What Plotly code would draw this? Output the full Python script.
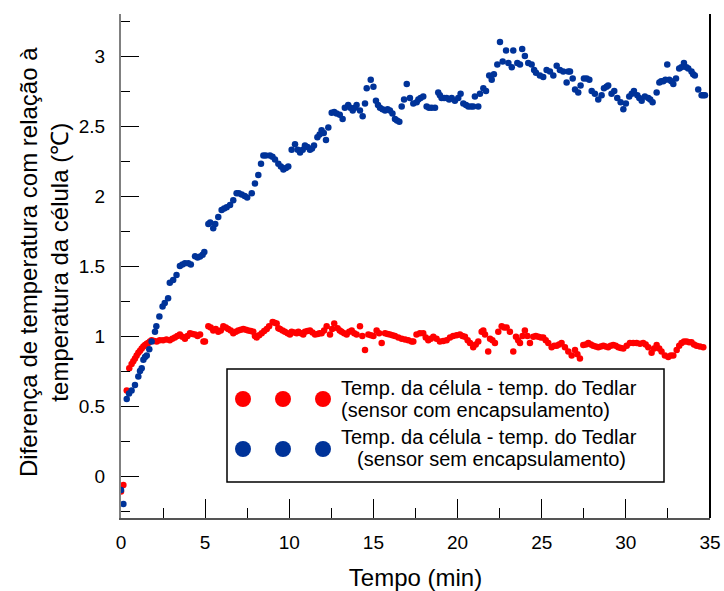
import plotly.graph_objects as go

# ---- data ----
blue_t = [0.0, 0.14, 0.34, 0.48, 0.63, 0.83, 1.03, 1.13, 1.23, 1.33, 1.43, 1.53, 1.68, 1.82, 2.02, 2.1, 2.28, 2.47, 2.6, 2.8,
          2.9, 3.1, 3.3, 3.5, 3.65, 3.8, 4.0, 4.15, 4.4, 4.55, 4.7, 4.85, 4.95, 5.19, 5.3, 5.48, 5.6, 5.78, 5.98, 6.13,
          6.28, 6.48, 6.67, 6.87, 7.0, 7.17, 7.35, 7.5, 7.77, 7.96, 8.16, 8.32, 8.46, 8.6, 8.85, 9.0, 9.15, 9.35, 9.5, 9.65,
          9.8, 9.94, 10.14, 10.34, 10.5, 10.64, 10.8, 10.93, 11.08, 11.23, 11.35, 11.47, 11.67, 11.8, 11.92, 12.05, 12.18, 12.32, 12.52, 12.67,
          12.81, 13.0, 13.17, 13.3, 13.5, 13.63, 13.77, 13.9, 14.0, 14.2, 14.36, 14.5, 14.6, 14.84, 15.0, 15.15, 15.27, 15.39, 15.54, 15.69,
          15.84, 15.98, 16.13, 16.28, 16.4, 16.54, 16.68, 16.82, 16.98, 17.17, 17.37, 17.57, 17.67, 17.8, 17.96, 18.16, 18.3, 18.46, 18.66, 18.85,
          18.95, 19.05, 19.2, 19.35, 19.5, 19.65, 19.84, 20.04, 20.18, 20.34, 20.5, 20.64, 20.8, 20.93, 21.03, 21.23, 21.33, 21.53, 21.69, 21.88,
          22.03, 22.16, 22.36, 22.52, 22.68, 22.88, 23.02, 23.22, 23.31, 23.55, 23.71, 23.84, 24.0, 24.2, 24.4, 24.55, 24.66, 24.89, 25.09, 25.29,
          25.49, 25.69, 25.89, 26.08, 26.28, 26.48, 26.58, 26.68, 26.84, 26.98, 27.17, 27.31, 27.51, 27.67, 27.83, 27.97, 28.16, 28.36, 28.56, 28.7,
          28.85, 28.95, 29.15, 29.31, 29.49, 29.69, 29.85, 30.0, 30.2, 30.35, 30.48, 30.68, 30.8, 30.94, 31.13, 31.33, 31.45, 31.59, 31.83, 31.99,
          32.1, 32.22, 32.35, 32.46, 32.58, 32.7, 32.82, 32.98, 33.17, 33.3, 33.45, 33.6, 33.71, 33.9, 34.0, 34.1, 34.3, 34.5, 34.6, 34.7]
blue_y = [-0.10, -0.20, 0.55, 0.59, 0.61, 0.65, 0.71, 0.75, 0.77, 0.83, 0.85, 0.86, 0.905, 0.96, 1.03, 1.07, 1.14, 1.21, 1.235, 1.27,
          1.38, 1.40, 1.435, 1.50, 1.51, 1.52, 1.52, 1.51, 1.57, 1.56, 1.567, 1.58, 1.60, 1.80, 1.81, 1.77, 1.80, 1.85, 1.90, 1.91,
          1.92, 1.936, 1.97, 2.02, 2.02, 2.01, 2.00, 1.99, 2.02, 2.09, 2.15, 2.23, 2.29, 2.29, 2.29, 2.28, 2.26, 2.23, 2.21, 2.19,
          2.20, 2.21, 2.33, 2.37, 2.33, 2.31, 2.33, 2.36, 2.35, 2.33, 2.34, 2.36, 2.42, 2.44, 2.47, 2.45, 2.40, 2.49, 2.595, 2.60,
          2.59, 2.58, 2.55, 2.63, 2.65, 2.63, 2.61, 2.63, 2.65, 2.61, 2.57, 2.66, 2.77, 2.83, 2.78, 2.68, 2.65, 2.63, 2.62, 2.61,
          2.62, 2.61, 2.59, 2.55, 2.54, 2.53, 2.64, 2.69, 2.80, 2.70, 2.66, 2.67, 2.69, 2.70, 2.71, 2.64, 2.63, 2.63, 2.63, 2.74,
          2.72, 2.70, 2.70, 2.70, 2.69, 2.70, 2.68, 2.70, 2.73, 2.66, 2.65, 2.64, 2.64, 2.64, 2.71, 2.64, 2.73, 2.77, 2.75, 2.86,
          2.83, 2.87, 2.94, 3.10, 2.96, 3.04, 2.95, 2.92, 3.04, 2.95, 2.94, 3.05, 3.00, 2.95, 2.94, 2.90, 2.88, 2.86, 2.85, 2.90,
          2.89, 2.86, 2.93, 2.90, 2.89, 2.81, 2.89, 2.89, 2.84, 2.76, 2.74, 2.79, 2.84, 2.84, 2.83, 2.75, 2.73, 2.69, 2.72, 2.77,
          2.78, 2.79, 2.73, 2.75, 2.70, 2.67, 2.62, 2.66, 2.71, 2.73, 2.75, 2.72, 2.70, 2.68, 2.71, 2.70, 2.69, 2.67, 2.74, 2.81,
          2.82, 2.82, 2.83, 2.94, 2.83, 2.82, 2.80, 2.84, 2.91, 2.92, 2.95, 2.92, 2.91, 2.89, 2.87, 2.86, 2.76, 2.72, 2.72, 2.72]

red_t = [0.0, 0.14, 0.34, 0.49, 0.63, 0.73, 0.83, 0.93, 1.03, 1.13, 1.23, 1.33, 1.43, 1.53, 1.62, 1.72, 1.82, 1.97, 2.12, 2.3,
         2.5, 2.7, 2.9, 3.05, 3.2, 3.35, 3.5, 3.65, 3.8, 3.95, 4.1, 4.25, 4.4, 4.55, 4.7, 4.9, 4.99, 5.19, 5.33, 5.48,
         5.63, 5.78, 5.93, 6.08, 6.23, 6.37, 6.52, 6.67, 6.82, 6.97, 7.12, 7.27, 7.42, 7.56, 7.71, 7.86, 7.96, 8.06, 8.21, 8.36,
         8.51, 8.66, 8.8, 9.01, 9.12, 9.25, 9.35, 9.45, 9.6, 9.74, 9.9, 10.04, 10.14, 10.3, 10.44, 10.54, 10.7, 10.83, 10.93, 11.08,
         11.23, 11.38, 11.53, 11.68, 11.8, 11.92, 12.07, 12.22, 12.42, 12.55, 12.67, 12.87, 13.0, 13.11, 13.26, 13.41, 13.56, 13.71, 13.86, 14.0,
         14.2, 14.34, 14.5, 14.7, 14.85, 15.0, 15.19, 15.34, 15.49, 15.69, 15.84, 15.98, 16.13, 16.28, 16.48, 16.68, 16.88, 17.07, 17.27, 17.37,
         17.56, 17.76, 17.96, 18.11, 18.26, 18.41, 18.56, 18.75, 18.95, 19.15, 19.35, 19.55, 19.74, 19.94, 20.14, 20.29, 20.44, 20.6, 20.74, 20.93,
         21.08, 21.23, 21.43, 21.53, 21.63, 21.82, 21.93, 22.07, 22.22, 22.42, 22.62, 22.77, 22.92, 23.11, 23.31, 23.47, 23.6, 23.71, 23.86, 24.0,
         24.15, 24.3, 24.5, 24.65, 24.8, 24.95, 25.09, 25.24, 25.39, 25.59, 25.74, 25.89, 26.03, 26.18, 26.38, 26.58, 26.78, 26.98, 27.12, 27.27,
         27.47, 27.62, 27.77, 27.92, 28.06, 28.21, 28.36, 28.51, 28.66, 28.8, 28.95, 29.1, 29.25, 29.4, 29.55, 29.7, 29.85, 30.05, 30.24, 30.44,
         30.64, 30.84, 31.03, 31.18, 31.33, 31.53, 31.68, 31.83, 31.98, 32.12, 32.32, 32.52, 32.67, 32.82, 33.02, 33.17, 33.31, 33.46, 33.61, 33.76,
         33.9, 34.05, 34.2, 34.4, 34.6]
red_y = [-0.11, -0.065, 0.61, 0.77, 0.80, 0.82, 0.84, 0.86, 0.88, 0.895, 0.91, 0.925, 0.935, 0.945, 0.95, 0.96, 0.97, 0.965, 0.96, 0.97,
         0.97, 0.975, 0.97, 0.98, 0.99, 1.00, 1.01, 0.995, 0.98, 1.00, 1.02, 1.015, 1.01, 1.00, 1.01, 0.96, 0.96, 1.07, 1.06, 1.04,
         1.05, 1.03, 1.04, 1.07, 1.06, 1.05, 1.04, 1.02, 1.03, 1.04, 1.045, 1.05, 1.045, 1.04, 1.035, 1.03, 1.00, 0.99, 1.005, 1.02,
         1.035, 1.05, 1.07, 1.10, 1.095, 1.09, 1.055, 1.05, 1.04, 1.03, 1.02, 1.01, 1.03, 1.025, 1.02, 1.03, 1.02, 1.01, 1.03, 1.035,
         1.04, 1.025, 1.01, 1.015, 1.02, 1.02, 1.04, 1.07, 1.01, 1.05, 1.09, 1.055, 1.04, 1.03, 1.02, 1.01, 1.03, 1.04, 1.02, 1.01,
         1.07, 1.00, 0.90, 1.01, 1.005, 1.00, 1.04, 1.02, 0.95, 1.02, 1.015, 1.01, 1.005, 1.00, 0.99, 0.98, 0.975, 0.97, 0.96, 0.96,
         1.01, 1.02, 1.02, 0.99, 0.97, 0.98, 0.995, 0.98, 0.96, 0.965, 0.97, 0.99, 1.00, 1.005, 1.01, 1.00, 0.995, 0.97, 0.95, 0.92,
         0.94, 0.96, 1.03, 1.04, 1.01, 0.89, 0.98, 0.97, 0.95, 1.03, 1.07, 1.06, 1.06, 1.03, 0.89, 0.995, 0.97, 0.95, 1.00, 1.04,
         1.00, 0.95, 0.995, 1.00, 0.995, 0.99, 0.99, 0.97, 0.95, 0.92, 0.93, 0.93, 0.94, 0.95, 0.92, 0.89, 0.86, 0.90, 0.87, 0.84,
         0.935, 0.94, 0.95, 0.94, 0.93, 0.925, 0.92, 0.925, 0.93, 0.925, 0.92, 0.93, 0.935, 0.93, 0.92, 0.915, 0.91, 0.93, 0.95, 0.95,
         0.95, 0.945, 0.95, 0.94, 0.92, 0.88, 0.91, 0.935, 0.91, 0.89, 0.86, 0.85, 0.86, 0.86, 0.90, 0.93, 0.95, 0.96, 0.96, 0.955,
         0.955, 0.94, 0.93, 0.925, 0.92]

legend_line1 = "Temp. da célula - temp. do Tedlar"
legend_red2 = "(sensor com encapsulamento)"
legend_blue2 = "(sensor sem encapsulamento)"
x_title = "Tempo (min)"
y_title = "Diferença de temperatura com relação à<br>temperatura da célula (℃)"

RED = "#FF0000"
BLUE = "#003399"
FONT = "Liberation Sans, Arial, sans-serif"

W, H = 724, 591
L, T = 121, 14          # plot area left/top in pixels
PW, PH = 589, 504        # plot area size
R, B = W - L - PW, H - T - PH


def px(xpage):
    return (xpage - L) / PW


def py(ypage):
    return (T + PH - ypage) / PH


fig = go.Figure()
fig.add_trace(go.Scatter(x=red_t, y=red_y, mode="markers",
                         marker=dict(color=RED, size=6.5), name=legend_line1 + " " + legend_red2,
                         showlegend=False))
fig.add_trace(go.Scatter(x=blue_t, y=blue_y, mode="markers",
                         marker=dict(color=BLUE, size=6.5), name=legend_line1 + " " + legend_blue2,
                         showlegend=False))

fig.update_xaxes(range=[0, 35], tickvals=[0, 5, 10, 15, 20, 25, 30, 35],
                 ticks="inside", ticklen=19, tickwidth=1, tickcolor="black",
                 showline=True, linecolor="#555555", linewidth=2,
                 showgrid=False, zeroline=False,
                 minor=dict(tickvals=[2.5, 7.5, 12.5, 17.5, 22.5, 27.5, 32.5],
                            ticks="inside", ticklen=10, tickcolor="black", tickwidth=1, showgrid=False),
                 tickfont=dict(family=FONT, size=19, color="black"),
                 ticklabelstandoff=6,
                 title=dict(text=x_title, font=dict(family=FONT, size=24, color="black"), standoff=17))
fig.update_yaxes(range=[-0.3, 3.3], tickvals=[0, 0.5, 1, 1.5, 2, 2.5, 3],
                 ticktext=["0", "0.5", "1", "1.5", "2", "2.5", "3"],
                 ticks="inside", ticklen=18, tickwidth=1, tickcolor="black",
                 showline=True, linecolor="#808080", linewidth=2,
                 showgrid=False, zeroline=False,
                 minor=dict(tickvals=[-0.25, 0.25, 0.75, 1.25, 1.75, 2.25, 2.75, 3.25],
                            ticks="inside", ticklen=9, tickcolor="black", tickwidth=1, showgrid=False),
                 tickfont=dict(family=FONT, size=19, color="black"),
                 ticklabelstandoff=10)

shapes = [
    dict(type="line", xref="paper", yref="paper", x0=1, x1=1, y0=0, y1=1,
         line=dict(color="black", width=2)),
    dict(type="rect", xref="paper", yref="paper", x0=px(227), x1=px(664), y0=py(482), y1=py(369),
         line=dict(color="black", width=1.5), fillcolor="white", layer="above"),
]
r = 8
for cx in (243, 283, 323):
    for cy, col in ((399, RED), (449, BLUE)):
        shapes.append(dict(type="circle", xref="paper", yref="paper",
                           x0=px(cx - r), x1=px(cx + r), y0=py(cy + r), y1=py(cy - r),
                           fillcolor=col, line=dict(color=col, width=0), layer="above"))

lf = dict(family=FONT, size=20, color="black")
annotations = [
    dict(text=legend_line1, xref="paper", yref="paper", x=px(339), y=py(388), xanchor="left", yanchor="middle",
         showarrow=False, font=lf),
    dict(text=legend_red2, xref="paper", yref="paper", x=px(339), y=py(410), xanchor="left", yanchor="middle",
         showarrow=False, font=lf),
    dict(text=legend_line1, xref="paper", yref="paper", x=px(339), y=py(437), xanchor="left", yanchor="middle",
         showarrow=False, font=lf),
    dict(text=legend_blue2, xref="paper", yref="paper", x=px(355), y=py(459), xanchor="left", yanchor="middle",
         showarrow=False, font=lf),
    dict(text=y_title, xref="paper", yref="paper", x=px(44), y=py(262), xanchor="center", yanchor="middle",
         textangle=-90, showarrow=False, font=dict(family=FONT, size=24, color="black")),
]

fig.update_layout(width=W, height=H, margin=dict(l=L, r=R, t=T, b=B, autoexpand=False),
                  paper_bgcolor="white", plot_bgcolor="white",
                  shapes=shapes, annotations=annotations, showlegend=False)

# remove the default 8px page margin so the figure sits at the window's top-left corner
fig.write_html("out.html",
               config={"displayModeBar": False},
               post_script="document.body.style.margin='0';document.body.style.overflow='hidden';")
